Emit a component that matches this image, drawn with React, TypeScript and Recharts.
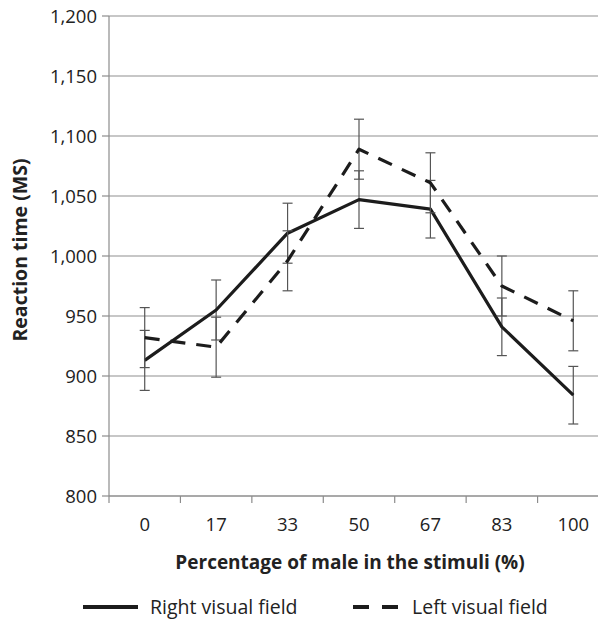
import React from 'react';
import { LineChart, Line, XAxis, YAxis, CartesianGrid, ErrorBar, Legend } from 'recharts';

const categories = ['0', '17', '33', '50', '67', '83', '100'];
const rightVisualField = [913, 955, 1019, 1047, 1039, 941, 884];
const leftVisualField = [932, 924, 996, 1089, 1061, 975, 946];
const rightError = [25, 25, 25, 24, 24, 24, 24];
const leftError = [25, 25, 25, 25, 25, 25, 25];
const yTicks = [800, 850, 900, 950, 1000, 1050, 1100, 1150, 1200];
const seriesNames = ['Right visual field', 'Left visual field'];

const data = categories.map((c, i) => ({
  idx: i,
  label: c,
  right: rightVisualField[i],
  left: leftVisualField[i],
  rightErr: rightError[i],
  leftErr: leftError[i],
}));

const boundaryTicks = categories.map((_, i) => i - 0.5).concat([categories.length - 0.5]);
const centerTicks = categories.map((_, i) => i);
const xTicks = [...boundaryTicks, ...centerTicks].sort((a, b) => a - b);

const FONT = '"Open Sans", "DejaVu Sans", sans-serif';
const TEXT = '#222';
const AXIS = '#8c8c8c';
const X_TICK_SIZE = 7;
const X_TICK_MARGIN = 22;

const XTick = (props: any) => {
  const { x, y, payload } = props;
  const v = payload.value;
  if (Number.isInteger(v)) {
    return (
      <text x={x} y={y} dy="0.35em" textAnchor="middle" fill={TEXT} fontSize={18.5} fontFamily={FONT}>
        {categories[v]}
      </text>
    );
  }
  return <line x1={x} x2={x} y1={y - X_TICK_MARGIN - X_TICK_SIZE} y2={y - X_TICK_MARGIN} stroke={AXIS} strokeWidth={1.2} />;
};

const fmt = (v: number) => v.toLocaleString('en-US');

const YTitle = (props: any) => {
  const vb = props.viewBox || { x: 0, y: 0, width: 0, height: 0 };
  const cx = vb.x + 20;
  const cy = vb.y + vb.height / 2 - 6;
  return (
    <text
      x={cx}
      y={cy}
      transform={`rotate(-90, ${cx}, ${cy})`}
      textAnchor="middle"
      dy="0.35em"
      fill={TEXT}
      fontSize={19.5}
      fontWeight="bold"
      fontFamily={FONT}
    >
      Reaction time (MS)
    </text>
  );
};

const XTitle = (props: any) => {
  const vb = props.viewBox || { x: 0, y: 0, width: 0, height: 0 };
  const cx = vb.x + vb.width / 2 - 9;
  const cy = vb.y + 66;
  return (
    <text x={cx} y={cy} dy="0.35em" textAnchor="middle" fill={TEXT} fontSize={19} fontWeight="bold" fontFamily={FONT}>
      Percentage of male in the stimuli (%)
    </text>
  );
};

const LegendContent = (props: any) => {
  const payload = [...(props.payload || [])].sort(
    (a: any, b: any) => seriesNames.indexOf(a.value) - seriesNames.indexOf(b.value)
  );
  const slots = [83, 353];
  return (
    <svg width={598} height={30} style={{ display: 'block' }}>
      {payload.map((p: any, i: number) => {
        const x0 = slots[i] ?? 83 + i * 270;
        const dashed = p.payload && p.payload.strokeDasharray;
        return (
          <g key={p.value}>
            <line
              x1={x0}
              x2={x0 + (dashed ? 45 : 55)}
              y1={15}
              y2={15}
              stroke={p.color}
              strokeWidth={4}
              strokeDasharray={dashed ? '16 13' : undefined}
            />
            <text x={x0 + (dashed ? 59 : 67)} y={15} dy="0.35em" fill={TEXT} fontSize={19.5} fontFamily={FONT}>
              {p.value}
            </text>
          </g>
        );
      })}
    </svg>
  );
};

export default function App() {
  return (
    <div style={{ position: 'fixed', left: 0, top: 0, width: 598, height: 622, overflow: 'hidden', background: '#fff' }}>
      <LineChart width={630} height={622} data={data} margin={{ top: 16, right: 21, left: 0, bottom: 0 }}>
        <CartesianGrid vertical={false} stroke="#b4b4b4" strokeWidth={1.3} />
        <XAxis
          dataKey="idx"
          type="number"
          domain={[-0.5, categories.length - 0.5]}
          ticks={xTicks}
          interval={0}
          tick={<XTick />}
          tickLine={false}
          tickSize={X_TICK_SIZE}
          tickMargin={X_TICK_MARGIN}
          axisLine={{ stroke: AXIS, strokeWidth: 1.2 }}
          height={126}
          label={<XTitle />}
        />
        <YAxis
          type="number"
          domain={[800, 1200]}
          ticks={yTicks}
          interval={0}
          tickFormatter={fmt}
          width={109}
          tickSize={7}
          tickMargin={5}
          tickLine={{ stroke: AXIS, strokeWidth: 1.2 }}
          axisLine={{ stroke: AXIS, strokeWidth: 1.2 }}
          tick={{ fill: TEXT, fontSize: 18.5, fontFamily: FONT }}
          label={<YTitle />}
        />
        <Legend
          verticalAlign="middle"
          align="center"
          layout="horizontal"
          wrapperStyle={{ position: 'absolute', top: 592, left: 0, width: 598, height: 30 }}
          content={<LegendContent />}
        />
        <Line
          name={seriesNames[0]}
          dataKey="right"
          type="linear"
          stroke="#1c1c1c"
          strokeWidth={3.2}
          strokeLinejoin="round"
          dot={false}
          activeDot={false}
          isAnimationActive={false}
        >
          <ErrorBar dataKey="rightErr" direction="y" width={5} stroke="#555" strokeWidth={1.2} />
        </Line>
        <Line
          name={seriesNames[1]}
          dataKey="left"
          type="linear"
          stroke="#1c1c1c"
          strokeWidth={3.2}
          strokeDasharray="15 11"
          strokeLinejoin="round"
          dot={false}
          activeDot={false}
          isAnimationActive={false}
        >
          <ErrorBar dataKey="leftErr" direction="y" width={5} stroke="#555" strokeWidth={1.2} />
        </Line>
      </LineChart>
    </div>
  );
}
